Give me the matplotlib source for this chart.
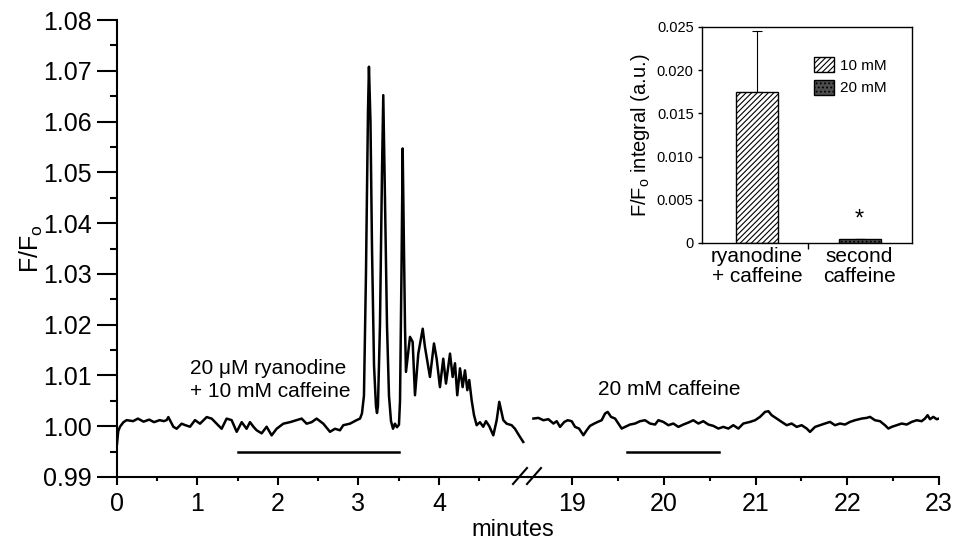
import numpy as np
import matplotlib.pyplot as plt
from matplotlib.lines import Line2D

plt.rcParams['font.family'] = ['Liberation Sans', 'DejaVu Sans']
plt.rcParams['mathtext.fontset'] = 'custom'
plt.rcParams['mathtext.rm'] = 'Liberation Sans'
plt.rcParams['hatch.linewidth'] = 0.8

# trace before the break (minutes, F/Fo)
left_t = [0.000, 0.015, 0.037, 0.080, 0.120, 0.200, 0.260, 0.330, 0.400, 0.460,
          0.530, 0.580, 0.617, 0.638, 0.700, 0.741, 0.803, 0.850, 0.907, 0.969,
          1.031, 1.114, 1.176, 1.238, 1.300, 1.362, 1.424, 1.487, 1.549, 1.610,
          1.652, 1.700, 1.735, 1.797, 1.859, 1.921, 1.983, 2.066, 2.149, 2.232,
          2.294, 2.356, 2.418, 2.480, 2.563, 2.646, 2.708, 2.770, 2.811, 2.894,
          2.977, 3.019, 3.043, 3.068, 3.093, 3.118, 3.130, 3.149, 3.168, 3.193,
          3.217, 3.230, 3.242, 3.267, 3.292, 3.308, 3.329, 3.354, 3.379, 3.404,
          3.429, 3.453, 3.478, 3.503, 3.516, 3.534, 3.549, 3.565, 3.578, 3.590,
          3.640, 3.673, 3.702, 3.743, 3.798, 3.826, 3.888, 3.938, 3.971, 4.012,
          4.053, 4.087, 4.137, 4.170, 4.199, 4.227, 4.261, 4.294, 4.323, 4.352,
          4.376, 4.406, 4.435, 4.468, 4.509, 4.550, 4.584, 4.625, 4.675, 4.717,
          4.749, 4.799, 4.841, 4.903, 4.944, 5.006, 5.047]
left_f = [0.9965, 0.9990, 0.9999, 1.0008, 1.0012, 1.0010, 1.0015, 1.0009, 1.0013, 1.0008,
          1.0012, 1.0010, 1.0012, 1.0018, 0.9999, 0.9995, 1.0005, 1.0002, 0.9999, 1.0012,
          1.0005, 1.0018, 1.0015, 1.0005, 0.9995, 1.0015, 1.0012, 0.9989, 1.0008, 0.9995,
          1.0008, 0.9998, 0.9992, 0.9986, 0.9999, 0.9982, 0.9995, 1.0005, 1.0008, 1.0012,
          1.0015, 1.0005, 1.0008, 1.0015, 1.0005, 0.9989, 0.9995, 0.9992, 1.0002, 1.0005,
          1.0012, 1.0015, 1.0025, 1.0060, 1.0300, 1.0620, 1.0708, 1.0600, 1.0350, 1.0120,
          1.0040, 1.0026, 1.0040, 1.0200, 1.0500, 1.0652, 1.0450, 1.0200, 1.0060, 1.0010,
          0.9995, 1.0005, 0.9998, 1.0003, 1.0050, 1.0300, 1.0547, 1.0350, 1.0195, 1.0107,
          1.0176, 1.0166, 1.0061, 1.0143, 1.0192, 1.0156, 1.0097, 1.0163, 1.0133, 1.0077,
          1.0133, 1.0084, 1.0143, 1.0097, 1.0124, 1.0061, 1.0114, 1.0077, 1.0110, 1.0071,
          1.0091, 1.0051, 1.0022, 1.0002, 1.0008, 0.9999, 1.0010, 1.0000, 0.9982, 1.0012,
          1.0048, 1.0012, 1.0005, 1.0002, 0.9995, 0.9979, 0.9969]

# trace after the break
right_t = [18.579, 18.633, 18.688, 18.742, 18.797, 18.833, 18.869, 18.916, 18.953, 18.996,
           19.033, 19.076, 19.124, 19.160, 19.196, 19.243, 19.280, 19.323, 19.360, 19.389,
           19.425, 19.469, 19.505, 19.541, 19.578, 19.632, 19.687, 19.741, 19.796, 19.850,
           19.905, 19.941, 19.995, 20.050, 20.104, 20.159, 20.213, 20.268, 20.322, 20.377,
           20.431, 20.486, 20.540, 20.595, 20.649, 20.704, 20.758, 20.813, 20.867, 20.940,
           20.995, 21.049, 21.104, 21.140, 21.176, 21.231, 21.285, 21.340, 21.394, 21.449,
           21.503, 21.558, 21.594, 21.649, 21.703, 21.757, 21.812, 21.866, 21.921, 21.975,
           22.030, 22.084, 22.157, 22.212, 22.248, 22.302, 22.357, 22.411, 22.448, 22.484,
           22.539, 22.593, 22.648, 22.702, 22.757, 22.811, 22.847, 22.876, 22.902, 22.938,
           22.975, 23.000]
right_f = [1.00151, 1.00164, 1.00118, 1.00138, 1.00053, 1.00099, 0.99987, 1.00085, 1.00118, 1.00099,
           0.99987, 0.99954, 0.99823, 0.99921, 1.00007, 1.00053, 1.00085, 1.00118, 1.00250, 1.00282,
           1.00184, 1.00151, 1.00053, 0.99954, 0.99987, 1.00033, 1.00053, 1.00099, 1.00118, 1.00053,
           1.00033, 1.00118, 1.00085, 1.00020, 1.00053, 0.99987, 1.00033, 1.00072, 1.00118, 1.00053,
           1.00099, 1.00033, 1.00007, 0.99954, 0.99987, 0.99954, 1.00020, 0.99954, 1.00053, 1.00085,
           1.00118, 1.00184, 1.00282, 1.00296, 1.00217, 1.00151, 1.00085, 1.00020, 1.00053, 0.99987,
           1.00020, 0.99954, 0.99888, 0.99987, 1.00020, 1.00053, 1.00085, 1.00020, 1.00053, 1.00033,
           1.00085, 1.00118, 1.00151, 1.00164, 1.00184, 1.00118, 1.00099, 1.00020, 0.99954, 0.99987,
           1.00020, 1.00053, 1.00033, 1.00085, 1.00118, 1.00099, 1.00151, 1.00217, 1.00138, 1.00184,
           1.00138, 1.00151]

# drug application bars
stim1_t = [1.5, 3.5]
stim2_t = [19.6, 20.6]
stim_f = 0.995

left_ticks = [0, 1, 2, 3, 4]
right_ticks = [19, 20, 21, 22, 23]
y_ticks = [0.99, 1.00, 1.01, 1.02, 1.03, 1.04, 1.05, 1.06, 1.07, 1.08]

# inset bar chart
bar_names = ['ryanodine\n+ caffeine', 'second\ncaffeine']
bar_vals = [0.0175, 0.0005]
bar_err = [0.0070, 0.0]
legend_names = ['10 mM', '20 mM']
inset_ticks = [0, 0.005, 0.010, 0.015, 0.020, 0.025]
inset_labels = ['0', '0.005', '0.010', '0.015', '0.020', '0.025']

W, H = 956, 542


def px_box(x0, y0, x1, y1):
    return [x0 / W, 1 - y1 / H, (x1 - x0) / W, (y1 - y0) / H]


fig = plt.figure(figsize=(9.56, 5.42), dpi=100)
ax1 = fig.add_axes(px_box(117, 20, 528, 477))
ax2 = fig.add_axes(px_box(528, 20, 939, 477), sharey=ax1)

ax1.plot(left_t, left_f, color='black', lw=1.8)
ax2.plot(right_t, right_f, color='black', lw=1.8)
ax1.plot(stim1_t, [stim_f] * 2, color='black', lw=1.8)
ax2.plot(stim2_t, [stim_f] * 2, color='black', lw=1.8)

ax1.set_xlim(0, 5.106)
ax2.set_xlim(18.52, 23)
ax1.set_ylim(0.99, 1.08)

ax1.set_yticks(y_ticks)
ax1.set_yticklabels(['%.2f' % v for v in y_ticks])
ax1.set_yticks([v + 0.005 for v in y_ticks[:-1]], minor=True)
ax1.set_xticks(left_ticks)
ax1.set_xticks([v + 0.5 for v in left_ticks], minor=True)
ax2.set_xticks(right_ticks)
ax2.set_xticks([v + 0.5 for v in right_ticks[:-1]], minor=True)

for s in ['top', 'right']:
    ax1.spines[s].set_visible(False)
for s in ['top', 'right', 'left']:
    ax2.spines[s].set_visible(False)
for ax in [ax1, ax2]:
    for s in ax.spines.values():
        s.set_linewidth(1.5)
    ax.tick_params(axis='x', which='major', length=6, width=1.5, pad=5, labelsize=18)
    ax.tick_params(axis='x', which='minor', length=3, width=1.5)
ax1.tick_params(axis='y', which='major', length=14.5, width=1.5, pad=3.5, labelsize=18)
ax1.tick_params(axis='y', which='minor', length=5, width=1.5)
ax2.tick_params(axis='y', which='both', left=False, labelleft=False)

ax1.set_ylabel('F/F$_\\mathregular{o}$', fontsize=18)
ax1.yaxis.set_label_coords(-0.175, 0.5)

ax1.text(0.907, 1.0091, '20 \u03bcM ryanodine\n+ 10 mM caffeine', fontsize=15,
         ha='left', va='center', linespacing=1.3)
ax2.text(19.283, 1.0073, '20 mM caffeine', fontsize=15, ha='left', va='center')
fig.text(513 / W, 1 - 530 / H, 'minutes', ha='center', va='center', fontsize=17)

# axis break marks
for x0 in [513, 527]:
    fig.add_artist(Line2D([x0 / W, (x0 + 14) / W], [1 - 484 / H, 1 - 468 / H],
                          color='black', lw=1.5))

# inset
axi = fig.add_axes(px_box(702, 27, 912, 243))
pos = np.arange(len(bar_vals))
b1 = axi.bar(pos[0], bar_vals[0], width=0.41, color='white', edgecolor='black',
             hatch='//////', lw=1, zorder=2)
b2 = axi.bar(pos[1], bar_vals[1], width=0.41, color='0.3', edgecolor='black',
             hatch='....', lw=1, zorder=2)
axi.errorbar(pos, bar_vals, yerr=[[0, 0], bar_err], fmt='none', ecolor='black',
             elinewidth=0.8, capsize=3.5, capthick=0.8, zorder=1)
axi.text(pos[1], 0.0015, '*', ha='center', va='bottom', fontsize=17)

axi.set_ylim(0, 0.025)
axi.set_xlim(-0.537, 1.512)
axi.set_yticks(inset_ticks)
axi.set_yticklabels(inset_labels)
axi.set_xticks(pos)
axi.set_xticklabels(bar_names, fontsize=15, linespacing=1.05)
axi.set_xticks([0.5], minor=True)
axi.tick_params(axis='x', which='major', length=0, pad=3)
axi.tick_params(axis='x', which='minor', length=4, width=1)
axi.tick_params(axis='y', length=3, width=1, pad=3, labelsize=10.5)
axi.set_ylabel('F/F$_\\mathregular{o}$ integral (a.u.)', fontsize=14.5)
axi.yaxis.set_label_coords(-0.24, 0.5)
for s in axi.spines.values():
    s.set_linewidth(1)

axi.legend([b1, b2], legend_names, loc='upper left', bbox_to_anchor=(814 / W, 1 - 57 / H),
           bbox_transform=fig.transFigure, frameon=False, fontsize=11, borderpad=0,
           borderaxespad=0, handlelength=1.3, handleheight=1.15, handletextpad=0.4,
           labelspacing=0.45)

fig.savefig('out.png', dpi=100)
